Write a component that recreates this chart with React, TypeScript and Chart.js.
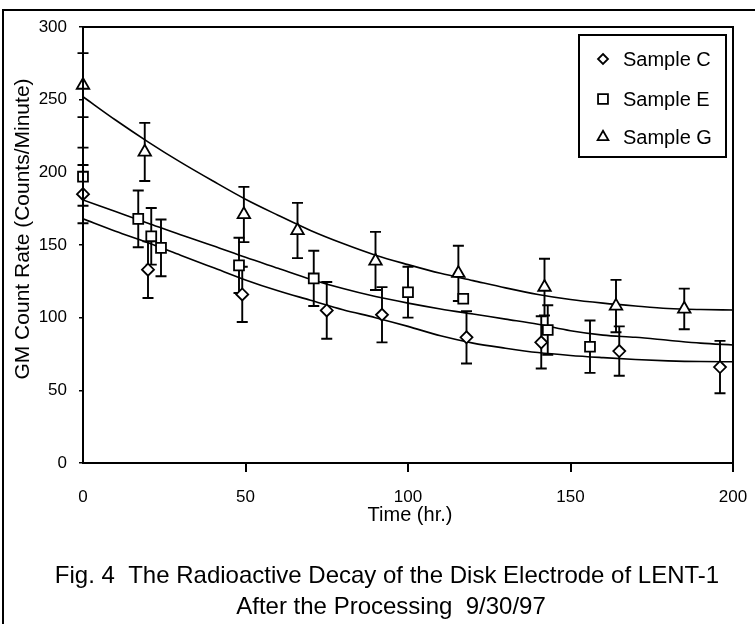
import React, { useEffect, useRef } from 'react';
import { Chart, registerables } from 'chart.js';

Chart.register(...registerables);

// ---- data ----
const timeC = [0, 20, 49, 75, 92, 118, 141, 165, 196];
const rateC = [185, 133, 116, 105, 102, 86.5, 83, 77, 66];
const errC = [20, 19.5, 19, 19.5, 19, 18, 18, 17, 18];

const timeE = [0, 17, 21, 24, 48, 71, 100, 117, 143, 156];
const rateE = [197, 168, 156, 148, 136, 127, 117.5, 113, 91.5, 80];
const errE = [20, 19.5, 19.5, 19.5, 19, 19, 17.5, 0, 17, 18];

const timeG = [0, 19, 49.5, 66, 90, 115.5, 142, 164, 185];
const rateG = [260, 214, 171, 160, 139, 130.5, 121, 108, 106];
const errG = [22, 20, 19, 19, 20, 19, 19.5, 18, 14];

// fitted decay curves
const fitTime = [0, 10, 20, 30, 40, 50, 60, 70, 80, 90, 100, 110, 120, 130, 140, 150, 160, 170, 180, 190, 200];
const fitC = [168, 159.5, 151.5, 143, 134.5, 126, 118.5, 112, 105.5, 100, 94, 87.5, 82.5, 79, 76, 74, 72.5, 71.2, 70.3, 69.8, 69.7];
const fitE = [181, 173, 165, 157, 149.5, 141.5, 134, 126.5, 120, 114.5, 110, 106, 102.5, 99, 95.5, 91, 88, 86.5, 84.5, 82.5, 81.2];
const fitG = [252, 236, 221, 207, 194, 181.5, 170.5, 160, 151, 143, 136.5, 130.5, 125.5, 120.5, 116, 112.5, 110, 108, 106.3, 105.6, 105.3];

const seriesNames = ['Sample C', 'Sample E', 'Sample G'];
const seriesStyles = ['rectRot', 'rect', 'triangle'];
const xAxisTitle = 'Time (hr.)';
const yAxisTitle = 'GM Count Rate (Counts/Minute)';
const captionLines = [
  'Fig. 4  The Radioactive Decay of the Disk Electrode of LENT-1',
  'After the Processing  9/30/97',
];
const xMin = 0, xMax = 200, xStep = 50;
const yMin = 0, yMax = 300, yStep = 50;

const FONT = '"Liberation Sans", Arial, Helvetica, sans-serif';

function drawMarker(ctx: CanvasRenderingContext2D, style: string, x: number, y: number, r: number) {
  ctx.beginPath();
  if (style === 'rectRot') {
    ctx.moveTo(x, y - r);
    ctx.lineTo(x + r, y);
    ctx.lineTo(x, y + r);
    ctx.lineTo(x - r, y);
    ctx.closePath();
  } else if (style === 'rect') {
    const s = r * Math.SQRT1_2;
    ctx.rect(x - s, y - s, 2 * s, 2 * s);
  } else {
    const w = r * Math.sin((2 * Math.PI) / 3);
    ctx.moveTo(x, y - r);
    ctx.lineTo(x + w, y + r * 0.5);
    ctx.lineTo(x - w, y + r * 0.5);
    ctx.closePath();
  }
  ctx.fillStyle = '#fff';
  ctx.fill();
  ctx.stroke();
}

const decorPlugin = {
  id: 'decor',
  beforeDatasetsDraw(chart: any) {
    const ctx = chart.ctx as CanvasRenderingContext2D;
    const xs = chart.scales.x;
    const ys = chart.scales.y;
    ctx.save();
    ctx.strokeStyle = '#000';
    ctx.lineWidth = 1.9;
    for (let d = 0; d < 3; d++) {
      const ds = chart.data.datasets[d];
      ds.data.forEach((p: any) => {
        if (!p.err) return;
        const px = xs.getPixelForValue(p.x);
        const top = ys.getPixelForValue(p.y + p.err);
        const bot = ys.getPixelForValue(p.y - p.err);
        ctx.beginPath();
        ctx.moveTo(px, top);
        ctx.lineTo(px, bot);
        ctx.moveTo(px - 5.5, top);
        ctx.lineTo(px + 5.5, top);
        ctx.moveTo(px - 5.5, bot);
        ctx.lineTo(px + 5.5, bot);
        ctx.stroke();
      });
    }
    ctx.restore();
  },
  afterDatasetsDraw(chart: any) {
    const ctx = chart.ctx as CanvasRenderingContext2D;
    const a = chart.chartArea;
    ctx.save();
    ctx.strokeStyle = '#000';
    ctx.lineWidth = 2;
    ctx.strokeRect(a.left, a.top, a.right - a.left, a.bottom - a.top);
    ctx.restore();
  },
  afterDraw(chart: any) {
    const ctx = chart.ctx as CanvasRenderingContext2D;
    ctx.save();
    // outer figure frame (cropped at right and bottom)
    ctx.strokeStyle = '#000';
    ctx.lineWidth = 2;
    ctx.strokeRect(3, 10, 800, 700);

    ctx.fillStyle = '#000';
    // y axis title
    ctx.save();
    ctx.translate(23, 229);
    ctx.rotate(-Math.PI / 2);
    ctx.font = `21px ${FONT}`;
    ctx.textAlign = 'center';
    ctx.textBaseline = 'middle';
    ctx.fillText(yAxisTitle, 0, 0);
    ctx.restore();

    // x axis title
    ctx.font = `20px ${FONT}`;
    ctx.textAlign = 'center';
    ctx.textBaseline = 'middle';
    ctx.fillText(xAxisTitle, 410, 515);

    // caption
    ctx.font = `24px ${FONT}`;
    ctx.textBaseline = 'alphabetic';
    ctx.fillText(captionLines[0], 387, 583);
    ctx.fillText(captionLines[1], 391, 614);

    // legend
    ctx.lineWidth = 2;
    ctx.strokeRect(579, 35, 147, 122);
    const rows = [59, 99, 137];
    const radii = [5, 7, 6.2];
    ctx.lineWidth = 1.8;
    for (let i = 0; i < 3; i++) {
      drawMarker(ctx, seriesStyles[i], 603, rows[i], radii[i]);
      ctx.fillStyle = '#000';
      ctx.font = `20px ${FONT}`;
      ctx.textAlign = 'left';
      ctx.textBaseline = 'middle';
      ctx.fillText(seriesNames[i], 623, rows[i] + 1);
    }
    ctx.restore();
  },
};

function pts(xs: number[], ys: number[], es?: number[]) {
  return xs.map((x, i) => ({ x, y: ys[i], err: es ? es[i] : 0 }));
}

export default function App() {
  const ref = useRef<HTMLCanvasElement | null>(null);

  useEffect(() => {
    if (!ref.current) return;
    const pointSets = [
      { t: timeC, r: rateC, e: errC, rad: 6 },
      { t: timeE, r: rateE, e: errE, rad: 7 },
      { t: timeG, r: rateG, e: errG, rad: 7.2 },
    ];
    const fits = [fitC, fitE, fitG];
    const datasets: any[] = [];
    pointSets.forEach((s, i) => {
      datasets.push({
        label: seriesNames[i],
        data: pts(s.t, s.r, s.e),
        showLine: false,
        pointStyle: seriesStyles[i],
        pointRadius: s.rad,
        pointBorderWidth: 1.8,
        pointBackgroundColor: '#fff',
        pointBorderColor: '#000',
        clip: false,
      });
    });
    fits.forEach((f, i) => {
      datasets.push({
        label: seriesNames[i] + ' fit',
        data: pts(fitTime, f),
        showLine: true,
        borderColor: '#000',
        borderWidth: 1.6,
        pointRadius: 0,
        cubicInterpolationMode: 'monotone',
        fill: false,
      });
    });

    const chart = new Chart(ref.current, {
      type: 'scatter',
      data: { datasets },
      options: {
        responsive: false,
        animation: false,
        devicePixelRatio: 1,
        layout: { padding: { top: 27, right: 22, bottom: 0, left: 0 } },
        plugins: { legend: { display: false }, tooltip: { enabled: false } },
        scales: {
          x: {
            type: 'linear',
            min: xMin,
            max: xMax,
            afterFit: (s: any) => { s.height = 161; s.paddingLeft = 0; s.paddingRight = 0; },
            border: { display: false },
            grid: {
              drawOnChartArea: false,
              tickLength: 9,
              lineWidth: 2,
              color: (c: any) => (c.tick && c.tick.value === 0 ? 'rgba(0,0,0,0)' : '#000'),
            },
            ticks: {
              stepSize: xStep,
              padding: 15,
              color: '#000',
              font: { family: FONT, size: 17 },
              maxRotation: 0,
            },
          },
          y: {
            type: 'linear',
            min: yMin,
            max: yMax,
            afterFit: (s: any) => { s.width = 83; },
            border: { display: false },
            grid: {
              drawOnChartArea: false,
              tickLength: 4,
              lineWidth: 1.5,
              color: '#000',
            },
            ticks: {
              stepSize: yStep,
              padding: 12,
              color: '#000',
              font: { family: FONT, size: 17 },
            },
          },
        },
      },
      plugins: [decorPlugin],
    } as any);
    return () => chart.destroy();
  }, []);

  return (
    <div style={{ position: 'absolute', left: 0, top: 0, width: 755, height: 624, background: '#fff' }}>
      <canvas ref={ref} width={755} height={624} style={{ display: 'block' }} />
    </div>
  );
}
